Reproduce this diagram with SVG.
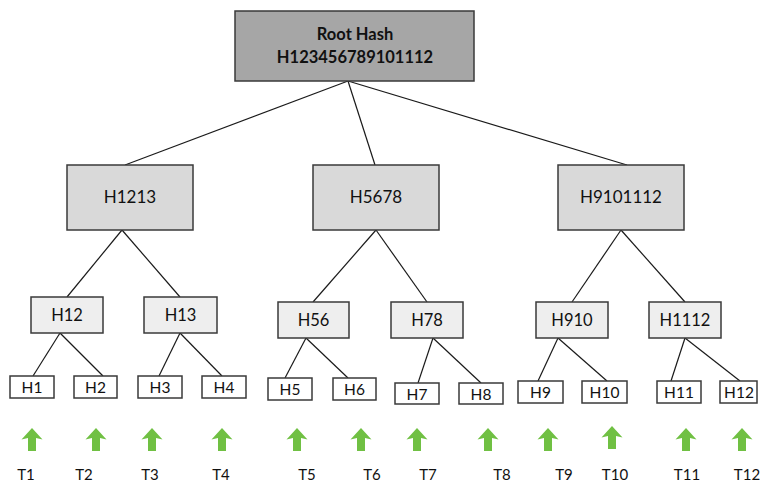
<svg xmlns="http://www.w3.org/2000/svg" width="760" height="484" viewBox="0 0 760 484">
<style>
.box{stroke:#3a3a3a;stroke-width:1.5}
.root{fill:#a6a6a6}
.l1{fill:#d9d9d9}
.l2{fill:#eeeeee}
.leaf{fill:#ffffff}
text{font-family:Lato,"Open Sans","Liberation Sans",sans-serif;fill:#111111;text-anchor:middle}
.rt{font-size:16.5px;font-weight:bold}
.t1{font-size:17px}
.t2{font-size:16.5px}
.t3{font-size:15.5px}
.tl{font-size:15px}
.edge{stroke:#1a1a1a;stroke-width:1.2;fill:none}
.arr{fill:#70c043}
</style>
<defs>
<polygon id="up" points="0,0 10.5,11.5 4,10 4,23 -4,23 -4,10 -10.5,11.5"/>
</defs>
<g id="connectors">
<line class="edge" x1="348" y1="81" x2="125" y2="165"/>
<line class="edge" x1="348" y1="81" x2="375" y2="165"/>
<line class="edge" x1="348" y1="81" x2="627" y2="165"/>
<line class="edge" x1="122" y1="230" x2="67" y2="297"/>
<line class="edge" x1="122" y1="230" x2="180" y2="297"/>
<line class="edge" x1="376" y1="230" x2="313" y2="302"/>
<line class="edge" x1="376" y1="230" x2="427" y2="302"/>
<line class="edge" x1="621" y1="230" x2="572" y2="302"/>
<line class="edge" x1="621" y1="230" x2="685" y2="302"/>
<line class="edge" x1="60" y1="333" x2="33" y2="376"/>
<line class="edge" x1="60" y1="333" x2="103" y2="376"/>
<line class="edge" x1="180" y1="333" x2="159" y2="376"/>
<line class="edge" x1="180" y1="333" x2="222" y2="376"/>
<line class="edge" x1="306" y1="338" x2="285" y2="378"/>
<line class="edge" x1="306" y1="338" x2="348" y2="378"/>
<line class="edge" x1="433" y1="338" x2="418" y2="383"/>
<line class="edge" x1="433" y1="338" x2="481" y2="383"/>
<line class="edge" x1="558" y1="338" x2="538" y2="381"/>
<line class="edge" x1="558" y1="338" x2="607" y2="381"/>
<line class="edge" x1="685" y1="338" x2="671" y2="381"/>
<line class="edge" x1="685" y1="338" x2="740" y2="381"/>
</g>
<g id="root"><rect class="box root" x="235" y="11" width="239" height="70"/><text class="rt" x="355" y="40">Root Hash</text><text class="rt" x="355" y="63">H123456789101112</text></g>
<g id="H1213"><rect class="box l1" x="67" y="165" width="126" height="65"/><text class="t1" x="130" y="203">H1213</text></g>
<g id="H5678"><rect class="box l1" x="313" y="165" width="126" height="65"/><text class="t1" x="376" y="203">H5678</text></g>
<g id="H9101112"><rect class="box l1" x="558" y="165" width="126" height="65"/><text class="t1" x="621" y="203">H9101112</text></g>
<g id="H12"><rect class="box l2" x="31" y="297" width="72" height="36"/><text class="t2" x="67" y="321">H12</text></g>
<g id="H13"><rect class="box l2" x="144" y="297" width="73" height="36"/><text class="t2" x="180.5" y="321">H13</text></g>
<g id="H56"><rect class="box l2" x="278" y="302" width="71" height="36"/><text class="t2" x="313.5" y="326">H56</text></g>
<g id="H78"><rect class="box l2" x="391" y="302" width="72" height="36"/><text class="t2" x="427" y="326">H78</text></g>
<g id="H910"><rect class="box l2" x="536" y="302" width="72" height="36"/><text class="t2" x="572" y="326">H910</text></g>
<g id="H1112"><rect class="box l2" x="649" y="302" width="72" height="36"/><text class="t2" x="685" y="326">H1112</text></g>
<g id="H1"><rect class="box leaf" x="10" y="376" width="44" height="22"/><text class="t3" x="32" y="393">H1</text></g>
<g id="H2"><rect class="box leaf" x="74" y="376" width="43" height="22"/><text class="t3" x="95.5" y="393">H2</text></g>
<g id="H3"><rect class="box leaf" x="138" y="376" width="44" height="22"/><text class="t3" x="160" y="393">H3</text></g>
<g id="H4"><rect class="box leaf" x="202" y="376" width="44" height="22"/><text class="t3" x="224" y="393">H4</text></g>
<g id="H5"><rect class="box leaf" x="268" y="378" width="44" height="22"/><text class="t3" x="290" y="395">H5</text></g>
<g id="H6"><rect class="box leaf" x="333" y="378" width="43" height="22"/><text class="t3" x="354.5" y="395">H6</text></g>
<g id="H7"><rect class="box leaf" x="395" y="383" width="44" height="21"/><text class="t3" x="417" y="400">H7</text></g>
<g id="H8"><rect class="box leaf" x="459" y="383" width="44" height="21"/><text class="t3" x="481" y="400">H8</text></g>
<g id="H9"><rect class="box leaf" x="518" y="381" width="45" height="22"/><text class="t3" x="540.5" y="398">H9</text></g>
<g id="H10"><rect class="box leaf" x="582" y="381" width="45" height="22"/><text class="t3" x="604.5" y="398">H10</text></g>
<g id="H11"><rect class="box leaf" x="657" y="381" width="44" height="22"/><text class="t3" x="679" y="398">H11</text></g>
<g id="H12leaf"><rect class="box leaf" x="720" y="381" width="37" height="22"/><text class="t3" x="739" y="398">H12</text></g>
<g id="T1"><use href="#up" class="arr" x="32" y="428"/><text class="tl" x="26" y="480">T1</text></g>
<g id="T2"><use href="#up" class="arr" x="96" y="428"/><text class="tl" x="84" y="480">T2</text></g>
<g id="T3"><use href="#up" class="arr" x="152" y="428"/><text class="tl" x="150" y="480">T3</text></g>
<g id="T4"><use href="#up" class="arr" x="222" y="428"/><text class="tl" x="221" y="480">T4</text></g>
<g id="T5"><use href="#up" class="arr" x="297" y="428"/><text class="tl" x="307" y="480">T5</text></g>
<g id="T6"><use href="#up" class="arr" x="361" y="428"/><text class="tl" x="372" y="480">T6</text></g>
<g id="T7"><use href="#up" class="arr" x="417" y="428"/><text class="tl" x="428" y="480">T7</text></g>
<g id="T8"><use href="#up" class="arr" x="488" y="428"/><text class="tl" x="502" y="480">T8</text></g>
<g id="T9"><use href="#up" class="arr" x="548" y="428"/><text class="tl" x="564" y="480">T9</text></g>
<g id="T10"><use href="#up" class="arr" x="612" y="426"/><text class="tl" x="615" y="480">T10</text></g>
<g id="T11"><use href="#up" class="arr" x="686" y="428"/><text class="tl" x="687" y="480">T11</text></g>
<g id="T12"><use href="#up" class="arr" x="742" y="428"/><text class="tl" x="747" y="480">T12</text></g>
</svg>
